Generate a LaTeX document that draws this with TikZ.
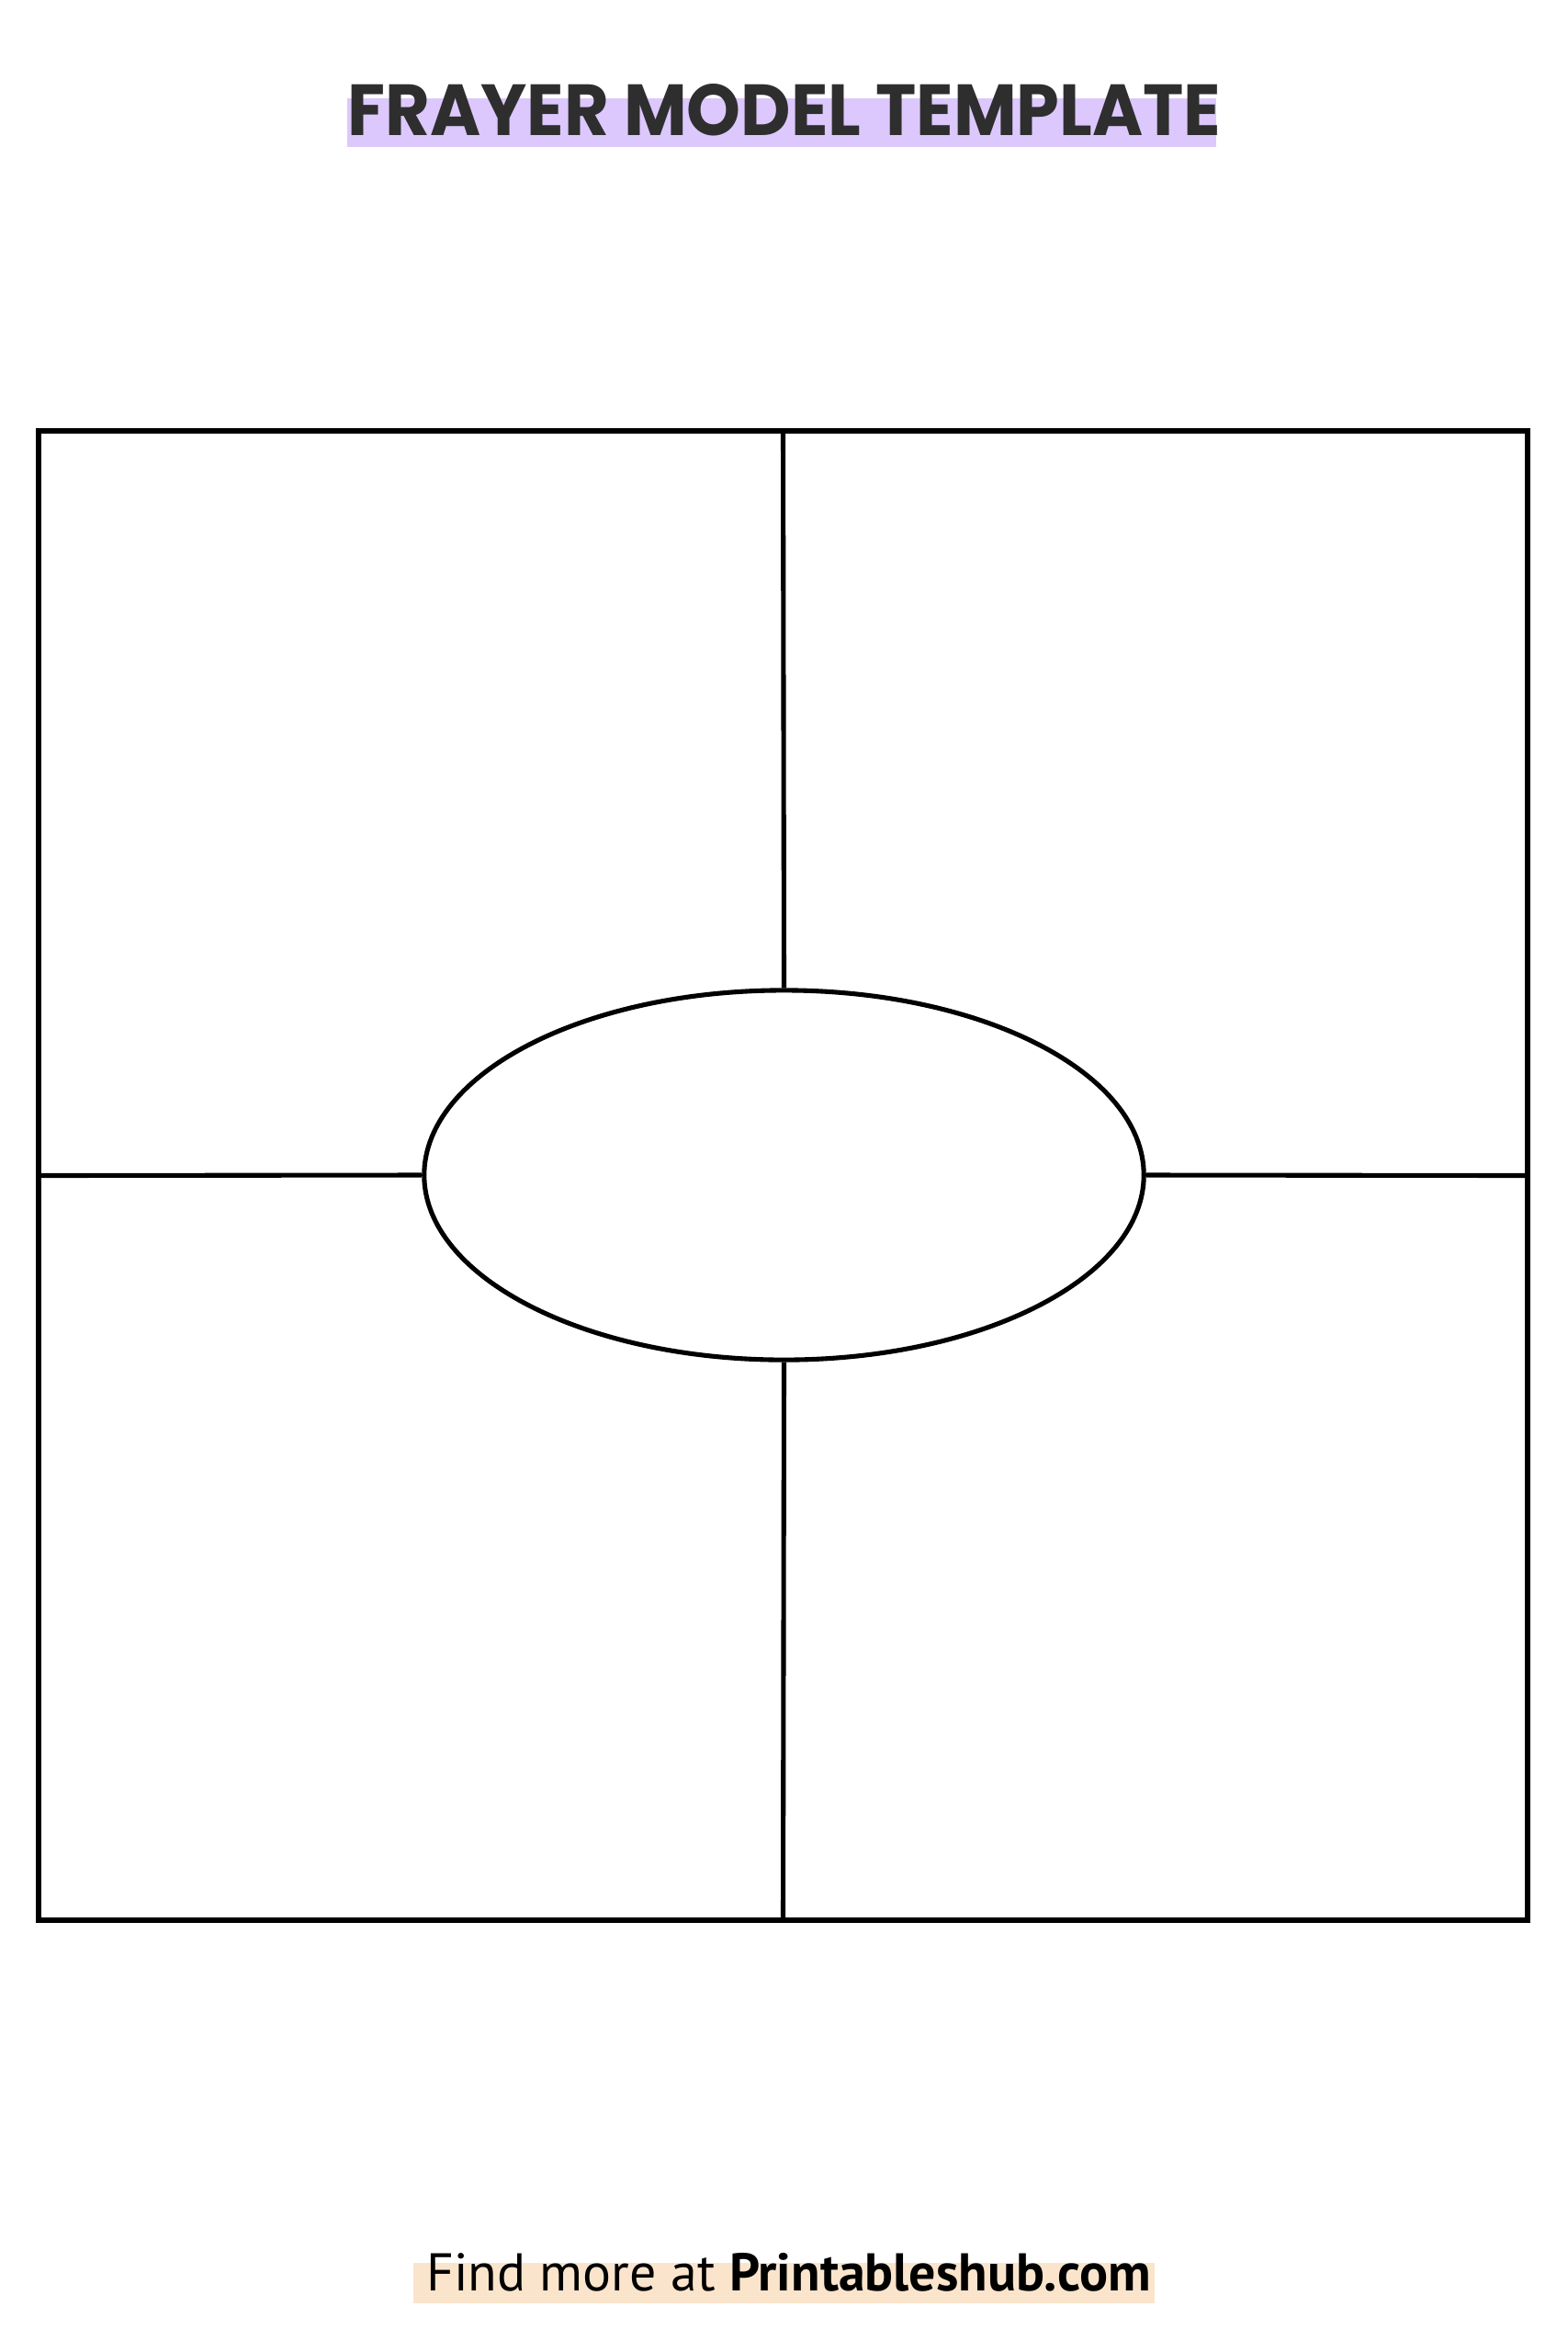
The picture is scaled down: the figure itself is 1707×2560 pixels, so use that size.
\documentclass[tikz,border=0pt]{standalone}
\usepackage{fontspec}
\usetikzlibrary{shapes.geometric}
\newfontfamily\titlefont{Poppins}[UprightFont=* Bold]
\newfontfamily\footfont{PT Sans}
\definecolor{inkgray}{HTML}{2E2E2E}
\definecolor{lavender}{HTML}{DCC8FC}
\definecolor{peach}{HTML}{FAE5CC}

\begin{document}
\begin{tikzpicture}[x=0.01cm,y=-0.01cm,
  box/.style={draw=black,line width=1.45pt,rectangle,inner sep=0pt,
    minimum width=16.2cm,minimum height=16.2cm},
  core/.style={draw=black,line width=1.45pt,ellipse,inner sep=0pt,
    minimum width=7.83cm,minimum height=4.02cm},
  rule/.style={black,line width=1.45pt}]
\useasboundingbox (0,0) rectangle (1707,2560);
\fill [lavender] (378,107) rectangle (1324,160);
\node (title) [anchor=base,inner sep=0pt,text=inkgray] at (854,147)
  {\scalebox{0.951}[1]{\titlefont\fontsize{22.4}{26}\selectfont FRAYER MODEL TEMPLATE}};
\node (frame) [box] at (852.5,1279.5) {};
\node (word) [core] at (853.5,1279) {};
\draw [rule] (frame.north) -- (word.north);
\draw [rule] (frame.south) -- (word.south);
\draw [rule] (frame.west) -- (word.west);
\draw [rule] (frame.east) -- (word.east);
\fill [peach] (450,2463) rectangle (1257,2507);
\node (more) [anchor=base,inner sep=0pt,text=black] at (858.5,2493)
  {\footfont\fontsize{16.45}{20}\selectfont Find more at \textbf{Printableshub.com}};
\end{tikzpicture}
\end{document}
